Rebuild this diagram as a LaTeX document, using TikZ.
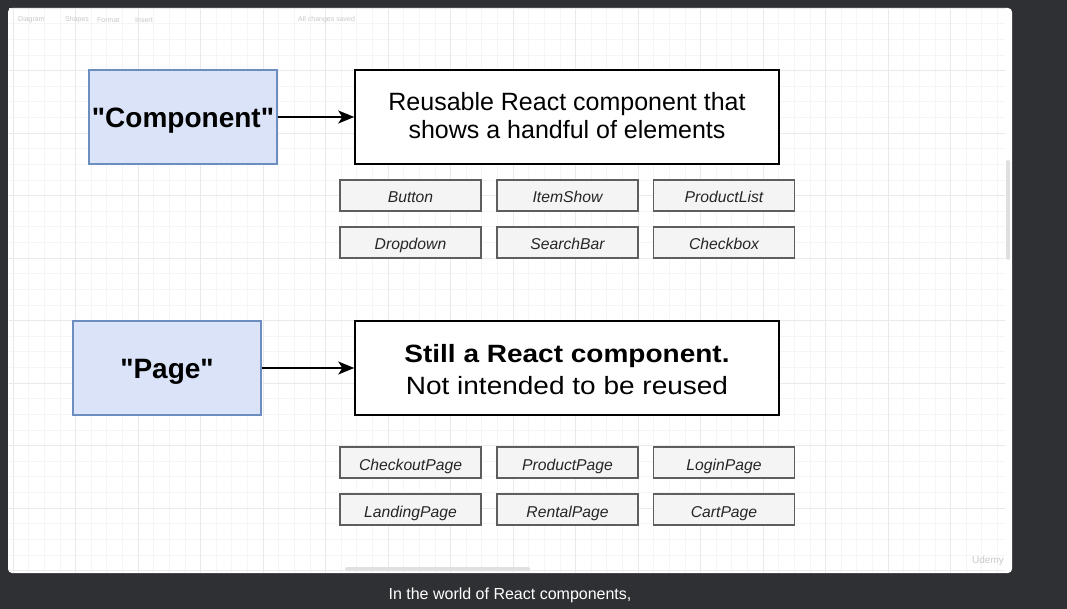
\documentclass[tikz,border=0pt]{standalone}
\usepackage{fontspec}
\setmainfont{Liberation Sans}[Ligatures=TeXOff]
\usetikzlibrary{arrows.meta}
\definecolor{darkbg}{HTML}{2F3033}
\definecolor{bluefill}{HTML}{DAE3F8}
\definecolor{blueline}{HTML}{6C8EBF}
\definecolor{greyfill}{HTML}{F4F4F4}
\definecolor{greyline}{HTML}{5E5E5E}
\definecolor{minorgrid}{HTML}{F5F5F5}
\definecolor{majorgrid}{HTML}{EAEAEA}
\definecolor{faint}{HTML}{C8C8C8}
\tikzset{
  bluebox/.style={draw=blueline, fill=bluefill, line width=1.2pt, minimum width=188pt, minimum height=94pt, inner sep=0pt},
  bluetext/.style={anchor=base, inner sep=0pt, font=\fontsize{28}{32}\selectfont\bfseries},
  whitebox/.style={draw=black, fill=white, line width=1.5pt, minimum width=424pt, minimum height=94pt, inner sep=0pt},
  desctext/.style={anchor=base, inner sep=0pt, font=\fontsize{25}{30}\selectfont},
  itembox/.style={draw=greyline, fill=greyfill, line width=1.3pt, minimum width=141pt, minimum height=31pt, inner sep=0pt, text height=15pt, text depth=0pt, font=\fontsize{15.7}{18}\selectfont\itshape, text=black!85},
  conn/.style={-{Stealth[length=16pt,width=13pt,inset=4pt]}, line width=1.3pt},
  faintlabel/.style={text=faint, font=\fontsize{7}{8}\selectfont, inner sep=0pt, anchor=west}
}
\begin{document}
\begin{tikzpicture}[x=1pt,y=-1pt]
\useasboundingbox (0,0) rectangle (1067,609);
\fill[darkbg] (0,0) rectangle (1067,609);
% canvas
\fill[white, rounded corners=4pt] (8,8) rectangle (1012,573);
\begin{scope}
\clip (9,9) rectangle (1005,572);
\foreach \i in {0,...,70} {
  \draw[minorgrid, line width=0.6pt] ({13+\i*15.625},8) -- ({13+\i*15.625},573);
}
\foreach \i in {0,...,40} {
  \draw[minorgrid, line width=0.6pt] (8,{8+\i*15.625}) -- (1012,{8+\i*15.625});
}
\foreach \i in {0,...,16} {
  \draw[majorgrid, line width=0.8pt] ({13+\i*62.5},8) -- ({13+\i*62.5},573);
}
\foreach \i in {0,...,9} {
  \draw[majorgrid, line width=0.8pt] (8,{8+\i*62.5}) -- (1012,{8+\i*62.5});
}
\end{scope}
% toolbar (faint)
\node[faintlabel] (tbdiagram) at (18,20) {Diagram};
\node[faintlabel] (tbshapes) at (65,20) {Shapes};
\node[faintlabel] (tbformat) at (97,20) {Format};
\node[faintlabel] (tbinsert) at (135,20) {Insert};
\node[faintlabel] (tbsaved) at (298,20) {All changes saved};
% scrollbars
\fill[black!12, rounded corners=1.5pt] (1006,160) rectangle (1010,260);
\fill[black!12, rounded corners=1.5pt] (345,567) rectangle (530,571);
\node[text=faint, font=\fontsize{10}{11}\selectfont, inner sep=0pt] (udemy) at (988,561) {Udemy};

% component section
\node[bluebox] (comp) at (183,117) {};
\node[bluetext] (comptext) at (183,127.8) {"Component"};
\node[whitebox] (compdesc) at (567,117) {};
\node[desctext] (compdesc1) at (567,110.5) {Reusable React component that};
\node[desctext] (compdesc2) at (567,139) {shows a handful of elements};
\draw[conn] (comp.east) -- (compdesc.west);

\node[itembox] (button) at (410.5,195.5) {Button};
\node[itembox] (itemshow) at (567.5,195.5) {ItemShow};
\node[itembox] (productlist) at (724,195.5) {ProductList};
\node[itembox] (dropdown) at (410.5,242.5) {Dropdown};
\node[itembox] (searchbar) at (567.5,242.5) {SearchBar};
\node[itembox] (checkbox) at (724,242.5) {Checkbox};

% page section
\node[bluebox] (page) at (167,368) {};
\node[bluetext] (pagetext) at (167,378.5) {"Page"};
\node[whitebox] (pagedesc) at (567,368) {};
\node[desctext, font=\fontsize{25}{30}\selectfont\bfseries\addfontfeature{FakeStretch=1.12}] (pagedesc1) at (567,362.5) {Still a React component.};
\node[desctext, font=\fontsize{25}{30}\selectfont\addfontfeature{FakeStretch=1.12}] (pagedesc2) at (567,394.5) {Not intended to be reused};
\draw[conn] (page.east) -- (pagedesc.west);

\node[itembox] (checkout) at (410.5,462.5) {CheckoutPage};
\node[itembox] (productpage) at (567.5,462.5) {ProductPage};
\node[itembox] (loginpage) at (724,462.5) {LoginPage};
\node[itembox] (landingpage) at (410.5,509.5) {LandingPage};
\node[itembox] (rentalpage) at (567.5,509.5) {RentalPage};
\node[itembox] (cartpage) at (724,509.5) {CartPage};

% caption
\node[text=white, font=\fontsize{16}{18}\selectfont, inner sep=0pt, anchor=base] (caption) at (510,599) {In the world of React components,};
\end{tikzpicture}
\end{document}
